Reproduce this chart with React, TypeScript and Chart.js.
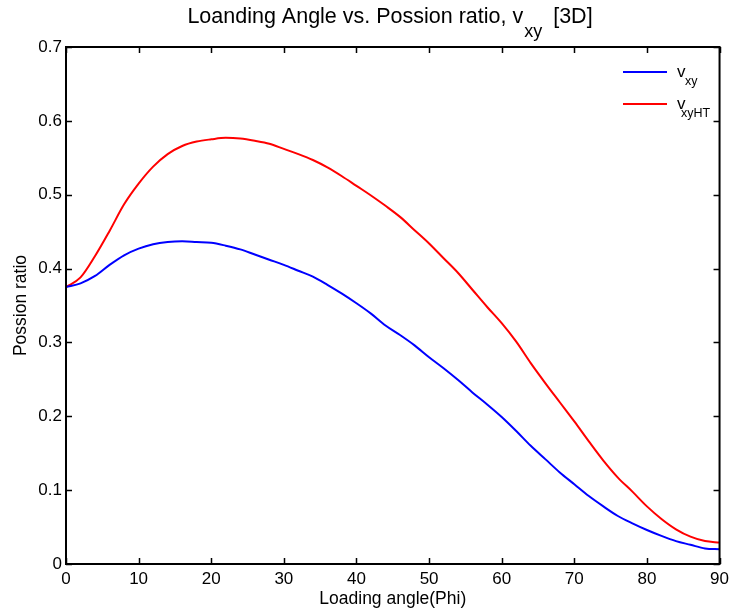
import React, { useEffect, useRef } from "react";
import { Chart, registerables } from "chart.js";

Chart.register(...registerables);

const angles = [0, 2, 4, 6, 8, 10, 12, 14, 16, 18, 20, 22, 24, 26, 28, 30, 32, 34, 36, 38, 40, 42, 44, 46, 48, 50, 52, 54, 56, 58, 60, 62, 64, 66, 68, 70, 72, 74, 76, 78, 80, 82, 84, 86, 88, 90];

const vxy = [0.375, 0.38, 0.39, 0.405, 0.418, 0.427, 0.433, 0.436, 0.437, 0.436, 0.435, 0.431, 0.426, 0.419, 0.412, 0.405, 0.397, 0.389, 0.378, 0.366, 0.353, 0.339, 0.323, 0.31, 0.296, 0.28, 0.265, 0.249, 0.232, 0.216, 0.199, 0.18, 0.16, 0.142, 0.124, 0.108, 0.092, 0.078, 0.065, 0.055, 0.046, 0.038, 0.031, 0.026, 0.021, 0.02];

const vxyHT = [0.375, 0.388, 0.417, 0.451, 0.487, 0.515, 0.538, 0.555, 0.566, 0.572, 0.575, 0.577, 0.576, 0.573, 0.569, 0.562, 0.555, 0.547, 0.537, 0.525, 0.512, 0.499, 0.485, 0.47, 0.452, 0.434, 0.414, 0.394, 0.371, 0.348, 0.326, 0.301, 0.272, 0.245, 0.219, 0.193, 0.166, 0.14, 0.117, 0.098, 0.078, 0.061, 0.047, 0.037, 0.031, 0.029];

const titleMain = "Loanding Angle vs. Possion ratio, v";
const titleSub = "xy";
const titleTail = "  [3D]";
const xTitle = "Loading angle(Phi)";
const yTitle = "Possion ratio";
const legendMain = ["v", "v"];
const legendSubs = ["xy", "xyHT"];
const seriesColors = ["#0000ff", "#ff0000"];

const FAMILY = '"Liberation Sans", Arial, Helvetica, sans-serif';

const decor = {
  id: "decor",
  afterDraw(chart: any) {
    const ctx = chart.ctx as CanvasRenderingContext2D;
    const { left, right, top, bottom } = chart.chartArea;
    const xs = chart.scales.x;
    const ys = chart.scales.y;
    ctx.save();
    // inward ticks on all four sides
    ctx.strokeStyle = "#000";
    ctx.lineWidth = 1.5;
    const tl = 6;
    ctx.beginPath();
    xs.ticks.forEach((t: any) => {
      const px = Math.round(xs.getPixelForValue(t.value)) + 0.5;
      ctx.moveTo(px, bottom);
      ctx.lineTo(px, bottom - tl);
      ctx.moveTo(px, top);
      ctx.lineTo(px, top + tl);
    });
    ys.ticks.forEach((t: any) => {
      const py = Math.round(ys.getPixelForValue(t.value)) + 0.5;
      ctx.moveTo(left, py);
      ctx.lineTo(left + tl, py);
      ctx.moveTo(right, py);
      ctx.lineTo(right - tl, py);
    });
    ctx.stroke();
    // box
    ctx.lineWidth = 2;
    ctx.strokeRect(left, top, right - left, bottom - top);

    // title with subscript
    ctx.fillStyle = "#000";
    ctx.textBaseline = "alphabetic";
    ctx.textAlign = "left";
    const f1 = `21.5px ${FAMILY}`;
    const f2 = `18px ${FAMILY}`;
    ctx.font = f1;
    const w1 = ctx.measureText(titleMain).width;
    const w3 = ctx.measureText(titleTail).width;
    ctx.font = f2;
    const w2 = ctx.measureText(titleSub).width;
    const total = w1 + w2 + w3;
    const x0 = 390 - total / 2;
    ctx.font = f1;
    ctx.fillText(titleMain, x0, 23);
    ctx.font = f2;
    ctx.fillText(titleSub, x0 + w1 + 1, 37);
    ctx.font = f1;
    ctx.fillText(titleTail, x0 + w1 + w2, 23);

    // legend
    const rows = [72, 104];
    const subX = [685, 681];
    rows.forEach((ly, i) => {
      ctx.strokeStyle = seriesColors[i];
      ctx.lineWidth = 2;
      ctx.beginPath();
      ctx.moveTo(623, ly);
      ctx.lineTo(667, ly);
      ctx.stroke();
      ctx.fillStyle = "#000";
      ctx.font = `17px ${FAMILY}`;
      ctx.fillText(legendMain[i], 677, ly + 5);
      ctx.font = `12.5px ${FAMILY}`;
      ctx.fillText(legendSubs[i], subX[i], ly + 13);
    });
    ctx.restore();
  },
};

export default function App() {
  const ref = useRef<HTMLCanvasElement | null>(null);
  useEffect(() => {
    if (!ref.current) return;
    const tickFont = { family: FAMILY, size: 17 };
    const axisTitleFont = { family: FAMILY, size: 17.5 };
    const chart = new Chart(ref.current, {
      type: "line",
      data: {
        datasets: [
          {
            label: "vxy",
            data: angles.map((a, i) => ({ x: a, y: vxy[i] })),
            borderColor: seriesColors[0],
            borderWidth: 2,
            pointRadius: 0,
            cubicInterpolationMode: "monotone",
            fill: false,
          },
          {
            label: "vxyHT",
            data: angles.map((a, i) => ({ x: a, y: vxyHT[i] })),
            borderColor: seriesColors[1],
            borderWidth: 2,
            pointRadius: 0,
            cubicInterpolationMode: "monotone",
            fill: false,
          },
        ],
      },
      options: {
        animation: false,
        responsive: false,
        devicePixelRatio: 1,
        layout: { padding: { left: 0, top: 47, right: 13, bottom: 0 } },
        plugins: {
          legend: { display: false },
          title: { display: false },
          tooltip: { enabled: false },
        },
        scales: {
          x: {
            type: "linear",
            min: 0,
            max: 90,
            grid: { display: false, drawTicks: false },
            border: { display: false },
            ticks: { stepSize: 10, color: "#000", font: tickFont, padding: 5, maxRotation: 0 },
            title: {
              display: true,
              text: xTitle,
              color: "#000",
              font: axisTitleFont,
              padding: { top: 0, bottom: 5 },
            },
            afterFit: (s: any) => {
              s.height = 51;
            },
          },
          y: {
            type: "linear",
            min: 0,
            max: 0.7,
            grid: { display: false, drawTicks: false },
            border: { display: false },
            ticks: { stepSize: 0.1, color: "#000", font: tickFont, padding: 4 },
            title: {
              display: true,
              text: yTitle,
              color: "#000",
              font: axisTitleFont,
              padding: { top: 11, bottom: 0 },
            },
            afterFit: (s: any) => {
              s.width = 66;
            },
          },
        },
      },
      plugins: [decor],
    } as any);
    return () => chart.destroy();
  }, []);
  return (
    <div style={{ position: "absolute", left: 0, top: 0, width: 734, height: 615, background: "#fff" }}>
      <canvas ref={ref} width={734} height={615} style={{ display: "block" }} />
    </div>
  );
}
